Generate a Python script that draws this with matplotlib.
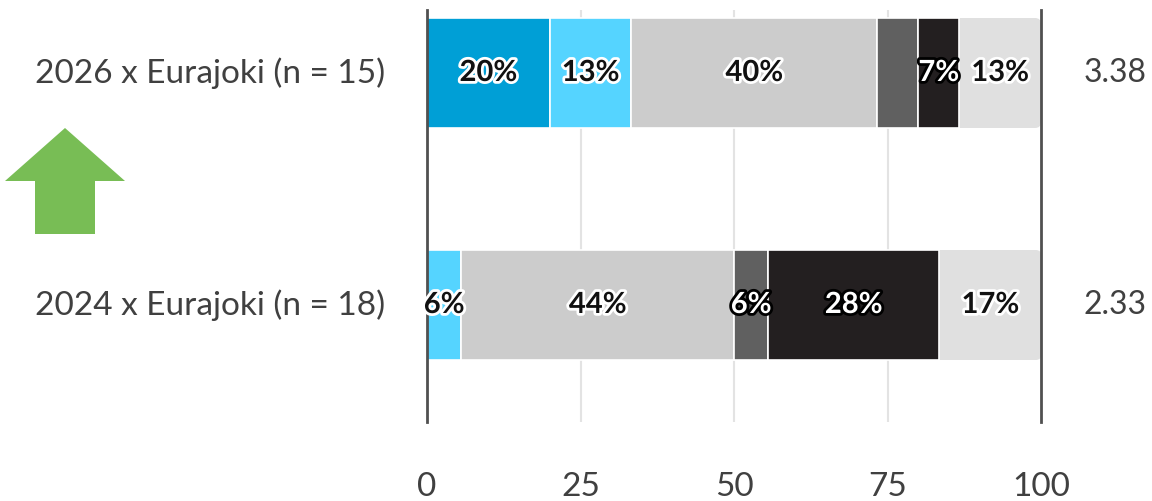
import numpy as np
import matplotlib
matplotlib.use("Agg")
import matplotlib.pyplot as plt
import matplotlib.patheffects as pe
from matplotlib.patches import Polygon, FancyBboxPatch

plt.rcParams["font.family"] = ["Lato", "DejaVu Sans"]

# ---------- data ----------
rows = ["2026 x Eurajoki (n = 15)", "2024 x Eurajoki (n = 18)"]
means = ["3.38", "2.33"]
share_2026 = [20.0, 13.3, 40.0, 6.7, 6.7, 13.3]
share_2024 = [0.0, 5.6, 44.4, 5.6, 27.8, 16.7]
labels_2026 = ["20%", "13%", "40%", "", "7%", "13%"]
labels_2024 = ["", "6%", "44%", "6%", "28%", "17%"]
seg_colors = ["#009fd6", "#55d4ff", "#cccccc", "#606060", "#231f20", "#e0e0e0"]
dark_seg = [False, False, False, True, True, False]
xticks = [0, 25, 50, 75, 100]
# --------------------------

W, H = 1152, 501
fig = plt.figure(figsize=(W / 100, H / 100), dpi=100)
ax = fig.add_axes([427 / W, 1 - 422 / H, (1041 - 427) / W, (422 - 10) / H])

shares = [share_2026, share_2024]
labels = [labels_2026, labels_2024]
ypos = np.arange(len(rows))
bar_h = 110 / 232
# px -> data scale, for the rounded end cap
px_x = 100 / 614
px_y = 1 / 232
round_r = 6 * px_x

for i, (vals, labs) in enumerate(zip(shares, labels)):
    left = 0.0
    last = len(vals) - 1
    for j, v in enumerate(vals):
        if v > 0:
            if j == last:
                # rounded right end, square left end; drawn under the
                # previous segment so its white edge stays as separator
                cap = FancyBboxPatch((left, ypos[i] - bar_h / 2), v, bar_h,
                                     boxstyle=f"round,pad=0,rounding_size={round_r}",
                                     mutation_aspect=px_y / px_x,
                                     facecolor=seg_colors[j], edgecolor="none", zorder=2.8)
                ax.add_patch(cap)
                ax.barh(ypos[i], v - 2 * round_r, left=left, height=bar_h,
                        color=seg_colors[j], edgecolor="none", zorder=2.8)
            else:
                ax.barh(ypos[i], v, left=left, height=bar_h, color=seg_colors[j],
                        edgecolor="white", linewidth=1.2, zorder=3)
        if labs[j]:
            if dark_seg[j]:
                fc, sc = "white", "black"
            else:
                fc, sc = "#111111", "white"
            ax.text(left + v / 2, ypos[i], labs[j], ha="center", va="center",
                    fontsize=21, fontweight="bold", color=fc, zorder=5,
                    path_effects=[pe.withStroke(linewidth=4, foreground=sc)])
        left += v

ax.set_xlim(0, 100)
ax.set_ylim(ypos[-1] + (422 - 305) / 232, ypos[0] - (73 - 10) / 232)

for x in xticks[1:-1]:
    ax.axvline(x, color="#e3e3e3", linewidth=1.5, zorder=1)

for side in ["top", "bottom"]:
    ax.spines[side].set_visible(False)
for side in ["left", "right"]:
    ax.spines[side].set_color("#505050")
    ax.spines[side].set_linewidth(2)
    ax.spines[side].set_zorder(4)

ax.set_xticks(xticks)
ax.set_xticklabels([str(t) for t in xticks])
ax.tick_params(axis="x", length=0, pad=36, labelsize=24, labelcolor="#404040")
ax.set_yticks([])

for i, name in enumerate(rows):
    ax.text(-0.068, ypos[i], name, transform=ax.get_yaxis_transform(),
            ha="right", va="center", fontsize=24, color="#404040")
    ax.text(1.12, ypos[i], means[i], transform=ax.get_yaxis_transform(),
            ha="center", va="center", fontsize=23, color="#404040")

# green up arrow, figure pixel coords
arrow_px = [(65, 128), (125, 181), (95, 181), (95, 234), (35, 234), (35, 181), (5, 181)]
arrow = Polygon([(x / W, 1 - y / H) for x, y in arrow_px], closed=True,
                facecolor="#78bd55", edgecolor="none", transform=fig.transFigure)
fig.patches.append(arrow)

fig.savefig("out.png", dpi=100, facecolor="white")
